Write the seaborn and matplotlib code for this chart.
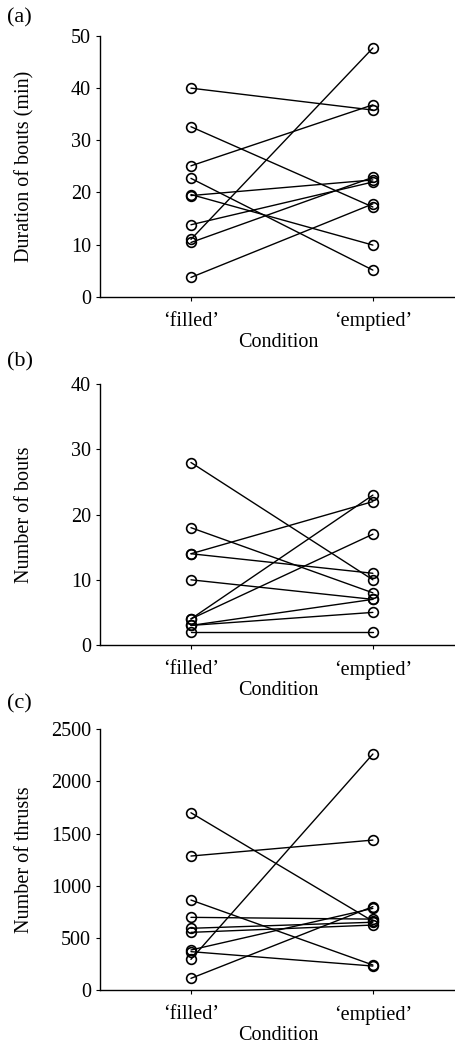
import numpy as np
import pandas as pd
import matplotlib
matplotlib.use('Agg')
import matplotlib.pyplot as plt
import seaborn as sns

# conditions
conditions = ['\u2018filled\u2019', '\u2018emptied\u2019']

# (a) duration of bouts (min), one pair per animal
dur_filled = [40.0, 32.6, 25.1, 22.7, 19.4, 19.6, 13.8, 11.0, 10.4, 3.7]
dur_emptied = [35.8, 17.2, 36.8, 5.1, 22.4, 9.9, 22.0, 47.7, 22.9, 17.8]

# (b) number of bouts
num_filled = [28, 18, 14, 14, 10, 4, 4, 3, 3, 2]
num_emptied = [10, 8, 22, 11, 7, 23, 17, 7, 5, 2]

# (c) number of thrusts
thr_filled = [1700, 1285, 863, 697, 592, 553, 384, 368, 294, 112]
thr_emptied = [660, 1438, 240, 680, 650, 623, 783, 230, 2263, 800]

panels = [
    ('(a)', 'Duration of bouts (min)', dur_filled, dur_emptied, 50, 10),
    ('(b)', 'Number of bouts', num_filled, num_emptied, 40, 10),
    ('(c)', 'Number of thrusts', thr_filled, thr_emptied, 2500, 500),
]

FS = 14.5


def make_long(filled, emptied):
    n = len(filled)
    return pd.DataFrame({
        'subject': list(range(n)) * 2,
        'condition': [conditions[0]] * n + [conditions[1]] * n,
        'value': list(filled) + list(emptied),
    })


sns.set_style('ticks')
plt.rcParams['font.family'] = ['Liberation Serif', 'DejaVu Serif']
plt.rcParams['text.color'] = 'black'
plt.rcParams['axes.labelcolor'] = 'black'

fig = plt.figure(figsize=(4.56, 10.44), dpi=100)
bottoms = [0.7158, 0.3822, 0.0517]
tops_lbl = [0.992, 0.663, 0.335]

for (tag, ylab, filled, emptied, ymax, step), b, tl in zip(panels, bottoms, tops_lbl):
    ax = fig.add_axes([0.2193, b, 0.7807, 0.2497])
    df = make_long(filled, emptied)
    sns.lineplot(data=df, x='condition', y='value', units='subject', estimator=None,
                 color='black', linewidth=1.0, marker='o', markersize=7,
                 markerfacecolor='none', markeredgecolor='black', markeredgewidth=1.2,
                 ax=ax, legend=False)
    ax.set_xlim(-0.5, 1.457)
    ax.set_ylim(0, ymax)
    ax.set_yticks(np.arange(0, ymax + step, step))
    ax.set_xticks([0, 1])
    ax.set_xticklabels(conditions)
    ax.tick_params(axis='both', labelsize=FS, length=3, width=0.8, color='black',
                   labelcolor='black', direction='out')
    ax.tick_params(axis='x', pad=8)
    ax.set_xlabel('Condition', fontsize=FS, labelpad=1, color='black')
    ax.set_ylabel(ylab, fontsize=FS, color='black')
    ax.yaxis.set_label_coords(-0.185, 0.5)
    sns.despine(ax=ax)
    for s in ['left', 'bottom']:
        ax.spines[s].set_color('black')
        ax.spines[s].set_linewidth(1.0)
    ax.patch.set_alpha(0)
    fig.text(0.015, tl, tag, fontsize=16, va='top', ha='left', color='black')

fig.savefig('out.png', dpi=100)
